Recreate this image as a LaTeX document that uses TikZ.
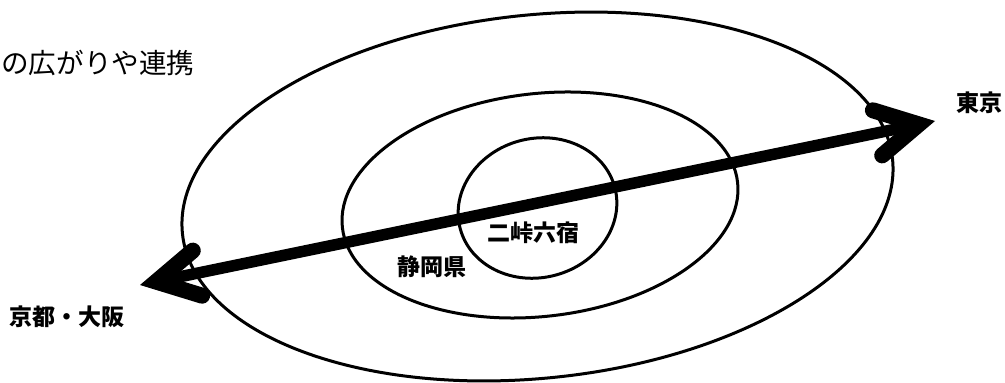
\documentclass[tikz,border=0pt]{standalone}
\usepackage{fontspec}
\newfontfamily\jp{Noto Sans CJK JP}
\usetikzlibrary{arrows.meta}

\begin{document}
\begin{tikzpicture}
[
    x=1pt, y=-1pt,
    ring/.style={line width=3pt},
    road/.style={line width=11.5pt, >={Straight Barb[length=42pt, width=46pt, line width'=16pt, line cap=round, line join=miter]}, <->},
    place/.style={font=\jp\bfseries\fontsize{23}{23}\selectfont, inner sep=0pt},
]
\useasboundingbox (0,0) rectangle (1005,383);
% rings
\coordinate (outer) at (537.5,196.5);
\coordinate (middle) at (540,205);
\coordinate (inner) at (537.5,208);
\draw[ring, rotate around={6:(outer)}] (outer) ellipse [x radius=357pt, y radius=181.6pt];
\draw[ring, rotate around={6.6:(middle)}] (middle) ellipse [x radius=198.9pt, y radius=111.4pt];
\draw[ring, rotate around={15:(inner)}] (inner) ellipse [x radius=80pt, y radius=69.5pt];
% arrow
\coordinate (kyoto) at (140,285);
\coordinate (tokyo) at (935,121);
\draw[road] (kyoto) -- (tokyo);
% labels
\node[anchor=west, inner sep=0pt, font=\jp\fontsize{27.6}{27.6}\selectfont] (title) at (1,63) {の広がりや連携};
\node[place, anchor=west] (tokyolabel) at (956,103) {東京};
\node[place, anchor=west] (kyotolabel) at (9,317) {京都・大阪};
\node[place, anchor=west] (shizuoka) at (397,267) {静岡県};
\node[place, anchor=west] (nitoge) at (487,233) {二峠六宿};
\end{tikzpicture}
\end{document}
